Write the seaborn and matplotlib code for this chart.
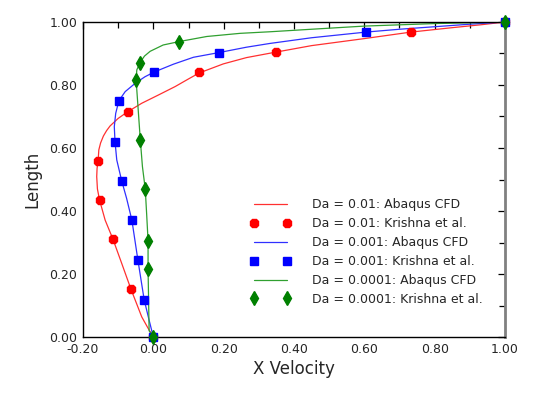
import matplotlib
matplotlib.use("Agg")
import matplotlib.pyplot as plt
import seaborn as sns
import pandas as pd
from matplotlib.ticker import MultipleLocator, FormatStrFormatter

# Abaqus CFD curves
cfd_01_x = [0.0, -0.016, -0.033, -0.064, -0.090, -0.115, -0.137, -0.153, -0.159, -0.161,
            -0.160, -0.157, -0.155, -0.150, -0.142, -0.133, -0.123, -0.100, -0.073, -0.033,
            0.014, 0.062, 0.098, 0.130, 0.199, 0.265, 0.332, 0.45, 0.598, 0.733, 0.85,
            0.93, 1.0]
cfd_01_y = [0.0, 0.030, 0.064, 0.153, 0.234, 0.311, 0.371, 0.435, 0.470, 0.509,
            0.535, 0.560, 0.594, 0.616, 0.638, 0.655, 0.670, 0.694, 0.715, 0.742,
            0.768, 0.795, 0.818, 0.838, 0.867, 0.887, 0.901, 0.925, 0.947, 0.968, 0.982,
            0.991, 1.0]

cfd_001_x = [0.0, -0.013, -0.026, -0.044, -0.061, -0.076, -0.090, -0.104, -0.109, -0.111,
             -0.107, -0.098, -0.080, -0.052, -0.024, 0.002, 0.057, 0.114, 0.187, 0.265,
             0.332, 0.45, 0.605, 0.7, 0.8, 0.9, 1.0]
cfd_001_y = [0.0, 0.058, 0.118, 0.245, 0.371, 0.440, 0.496, 0.562, 0.620, 0.668,
             0.710, 0.750, 0.779, 0.805, 0.826, 0.841, 0.866, 0.888, 0.903, 0.920,
             0.932, 0.950, 0.968, 0.977, 0.985, 0.993, 1.0]

cfd_0001_x = [0.0, -0.012, -0.015, -0.015, -0.019, -0.023, -0.031, -0.037, -0.043, -0.049,
              -0.047, -0.037, -0.025, -0.009, 0.028, 0.074, 0.152, 0.247, 0.332, 0.45,
              0.6, 0.8, 1.0]
cfd_0001_y = [0.0, 0.020, 0.216, 0.306, 0.390, 0.470, 0.541, 0.625, 0.721, 0.816,
              0.848, 0.873, 0.892, 0.907, 0.927, 0.938, 0.954, 0.964, 0.969, 0.977,
              0.987, 0.995, 1.0]

# Krishna et al. reference points
kr_01_x = [0.0, -0.064, -0.115, -0.153, -0.156, -0.073, 0.130, 0.348, 0.733, 1.0]
kr_01_y = [0.0, 0.153, 0.311, 0.435, 0.560, 0.715, 0.841, 0.905, 0.968, 1.0]

kr_001_x = [0.0, -0.026, -0.044, -0.061, -0.090, -0.109, -0.098, 0.002, 0.187, 0.605, 1.0]
kr_001_y = [0.0, 0.118, 0.245, 0.371, 0.496, 0.620, 0.750, 0.841, 0.903, 0.968, 1.0]

kr_0001_x = [0.0, -0.015, -0.015, -0.023, -0.037, -0.049, -0.037, 0.074, 1.0]
kr_0001_y = [0.0, 0.216, 0.306, 0.470, 0.625, 0.816, 0.871, 0.938, 1.0]

sns.set_style("white")
plt.rcParams['font.family'] = ['DejaVu Sans']

fig = plt.figure(figsize=(5.45, 3.97), dpi=100)
ax = fig.add_axes([0.1523, 0.1511, 0.7743, 0.7935])

series = [
    ("Da = 0.01", cfd_01_x, cfd_01_y, kr_01_x, kr_01_y, "#ff3030", "red", "8", 6.0),
    ("Da = 0.001", cfd_001_x, cfd_001_y, kr_001_x, kr_001_y, "#3030ff", "blue", "s", 6.2),
    ("Da = 0.0001", cfd_0001_x, cfd_0001_y, kr_0001_x, kr_0001_y, "#30a030", "green", "d", 7.5),
]

handles = []
labels = []
for name, cx, cy, kx, ky, lc, mc, mk, ms in series:
    df = pd.DataFrame({"x": cx, "y": cy})
    sns.lineplot(data=df, x="x", y="y", sort=False, estimator=None, color=lc,
                 linewidth=0.9, ax=ax)
    handles.append(ax.lines[-1])
    labels.append(f"{name}: Abaqus CFD")

for name, cx, cy, kx, ky, lc, mc, mk, ms in series:
    h, = ax.plot(kx, ky, linestyle="none", marker=mk, markersize=ms, color=mc,
                 markeredgecolor=mc, clip_on=False, zorder=5)
    handles.append(h)
    labels.append(f"{name}: Krishna et al.")

order = [0, 3, 1, 4, 2, 5]
ax.legend([handles[i] for i in order], [labels[i] for i in order],
          loc="upper left", bbox_to_anchor=(0.397, 0.44), frameon=False,
          fontsize=9, numpoints=2, handlelength=3.2, handletextpad=1.7,
          labelspacing=0.47, borderpad=0, borderaxespad=0)

ax.set_xlim(-0.2, 1.0)
ax.set_ylim(0.0, 1.0)
ax.xaxis.set_major_locator(MultipleLocator(0.2))
ax.xaxis.set_minor_locator(MultipleLocator(0.1))
ax.yaxis.set_major_locator(MultipleLocator(0.2))
ax.yaxis.set_minor_locator(MultipleLocator(0.1))
ax.xaxis.set_major_formatter(FormatStrFormatter("%.2f"))
ax.yaxis.set_major_formatter(FormatStrFormatter("%.2f"))
ax.tick_params(which="major", direction="in", top=True, right=True, length=5,
               width=0.9, color="black", labelsize=9, pad=4)
ax.tick_params(which="minor", direction="in", top=True, right=True, length=4,
               width=0.9, color="black")
for t in ax.yaxis.get_major_ticks() + ax.yaxis.get_minor_ticks():
    t.tick2line.set_color("#808080")

for side in ["left", "bottom", "top"]:
    ax.spines[side].set_color("black")
    ax.spines[side].set_linewidth(1.0)
ax.spines["right"].set_color("#808080")
ax.spines["right"].set_linewidth(2.0)

ax.set_xlabel("X Velocity", fontsize=12, labelpad=3)
ax.set_ylabel("Length", fontsize=12, labelpad=6)

fig.savefig("out.png", dpi=100)
